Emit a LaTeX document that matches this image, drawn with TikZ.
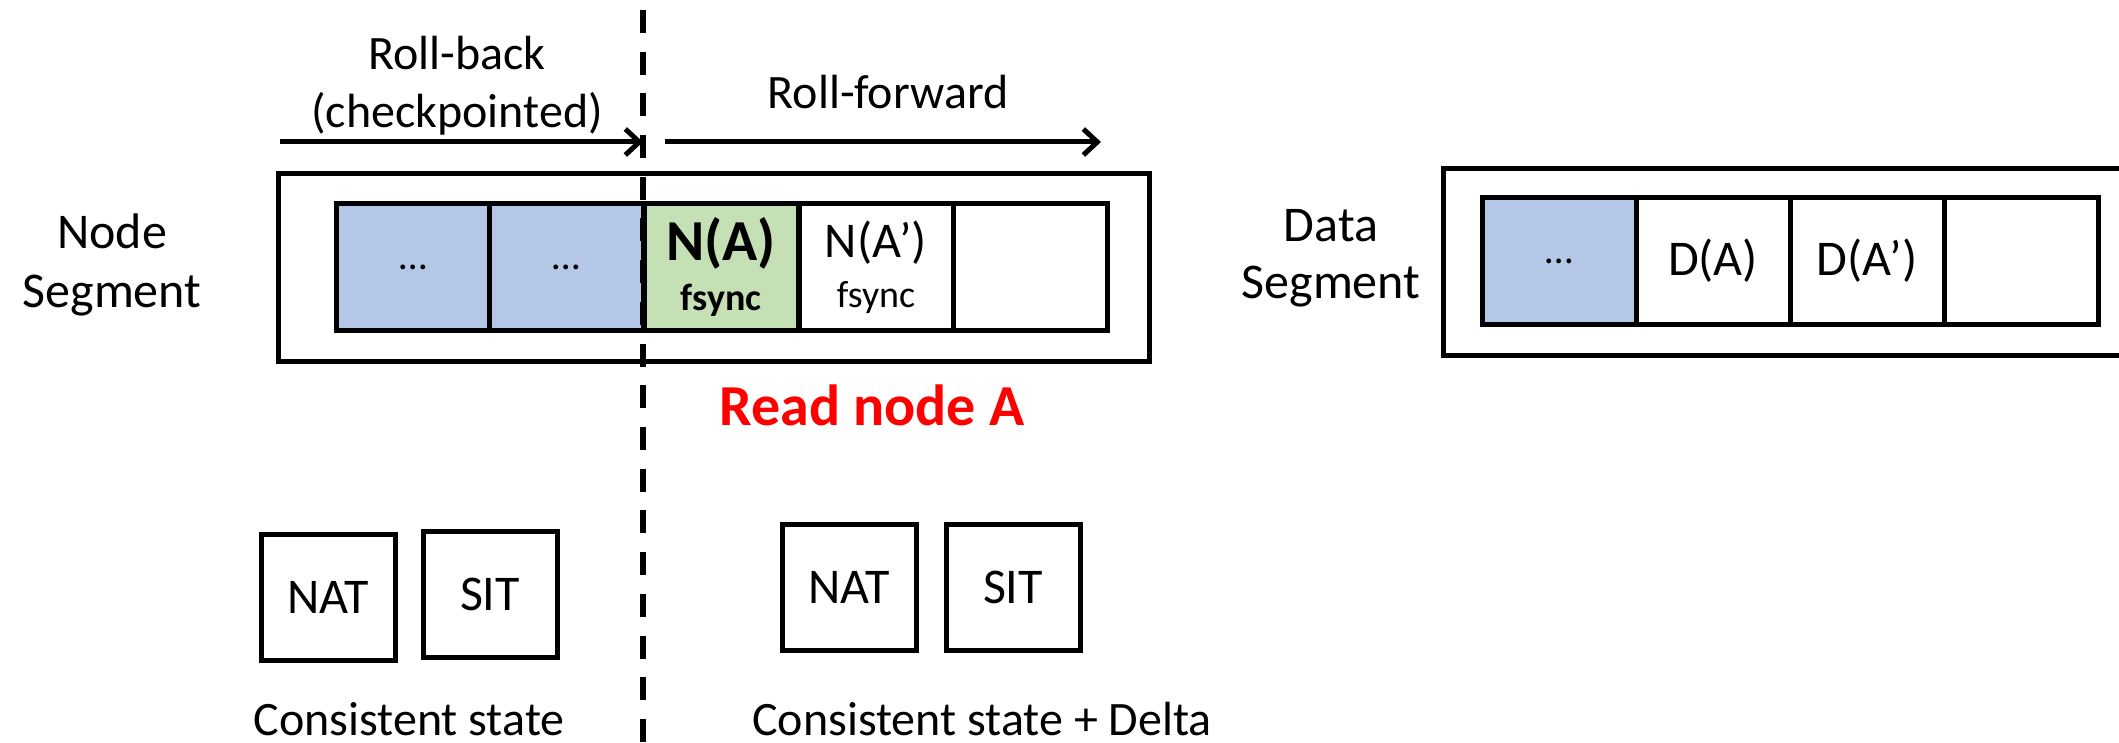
\documentclass[tikz,border=0pt]{standalone}
\usepackage{fontspec}
\setmainfont{Carlito}
\usetikzlibrary{arrows.meta}
\definecolor{cellblue}{HTML}{B4C7E7}
\definecolor{cellgreen}{HTML}{C5E0B4}
\definecolor{readred}{HTML}{FF0000}
\tikzset{
  lbl/.style={font=\fontsize{48}{58}\selectfont, align=center, inner sep=0pt},
  cell/.style={draw, line width=5pt, minimum width=154pt, minimum height=127pt, inner sep=0pt, align=center, font=\fontsize{50}{56}\selectfont},
  segbox/.style={draw, line width=5pt, inner sep=0pt},
  tblbox/.style={draw, line width=5pt, minimum width=134pt, minimum height=126pt, inner sep=0pt, font=\fontsize{50}{56}\selectfont},
  rollarrow/.style={line width=5pt, -{Straight Barb[length=14pt, width=26pt, line width=5pt]}},
  divider/.style={line width=5.5pt, dash pattern=on 23pt off 18.7pt},
}
\begin{document}
\begin{tikzpicture}[x=1pt, y=-1pt]
\useasboundingbox (0,0) rectangle (2119,743);
\clip (0,0) rectangle (2119,743);

% Node segment
\node[segbox, minimum width=871pt, minimum height=187pt] (nseg) at (713.5,267.5) {};
\node[cell, fill=cellblue] (n1) at (413,267) {\fontsize{40}{40}\selectfont …};
\node[cell, fill=cellblue] (n2) at (566.5,267) {\fontsize{40}{40}\selectfont …};
\node[cell, fill=cellgreen] (n3) at (721,267) {\fontsize{58}{58}\selectfont\textbf{N(A)}\\[-6pt]{\fontsize{38}{40}\selectfont\textbf{fsync}}};
\node[cell, fill=white] (n4) at (876,267) {N(A’)\\[-6pt]{\fontsize{38}{40}\selectfont fsync}};
\node[cell, fill=white] (n5) at (1030.5,267) {};

\node[lbl, font=\fontsize{50}{59}\selectfont] (nseglbl) at (112,265) {Node\\Segment};

% Data segment
\node[segbox, minimum width=720pt, minimum height=186pt, anchor=west] (dseg) at (1441,262) {};
\node[cell, fill=cellblue] (d1) at (1559,261) {\fontsize{40}{40}\selectfont …};
\node[cell, fill=white] (d2) at (1713,261) {D(A)};
\node[cell, fill=white] (d3) at (1867,261) {D(A’)};
\node[cell, fill=white] (d4) at (2021,261) {};

\node[lbl, font=\fontsize{50}{57}\selectfont] (dseglbl) at (1331,258) {Data\\Segment};

% Divider
\coordinate (divtop) at (643,10);
\coordinate (divbot) at (643,743);
\draw[divider] (divtop) -- (divbot);

% Arrows
\coordinate (rbs) at (280,142);
\coordinate (rbe) at (643,142);
\coordinate (rfs) at (665,142);
\coordinate (rfe) at (1101,142);
\draw[rollarrow] (rbs) -- (rbe);
\draw[rollarrow] (rfs) -- (rfe);

\node[lbl] (rblbl) at (457,86) {Roll-back\\(checkpointed)};
\node[lbl] (rflbl) at (888,92) {Roll-forward};

\node[lbl, text=readred, font=\fontsize{58}{60}\selectfont\bfseries] (read) at (872,405) {Read node A};

% Tables
\node[tblbox] (nat1) at (328,597) {NAT};
\node[tblbox] (sit1) at (490,594) {SIT};
\node[tblbox] (nat2) at (849,587) {NAT};
\node[tblbox] (sit2) at (1013,587) {SIT};

\node[lbl, anchor=base] (cs1) at (409,735) {Consistent state};
\node[lbl, anchor=base] (cs2) at (982,735) {Consistent state + Delta};
\end{tikzpicture}
\end{document}
